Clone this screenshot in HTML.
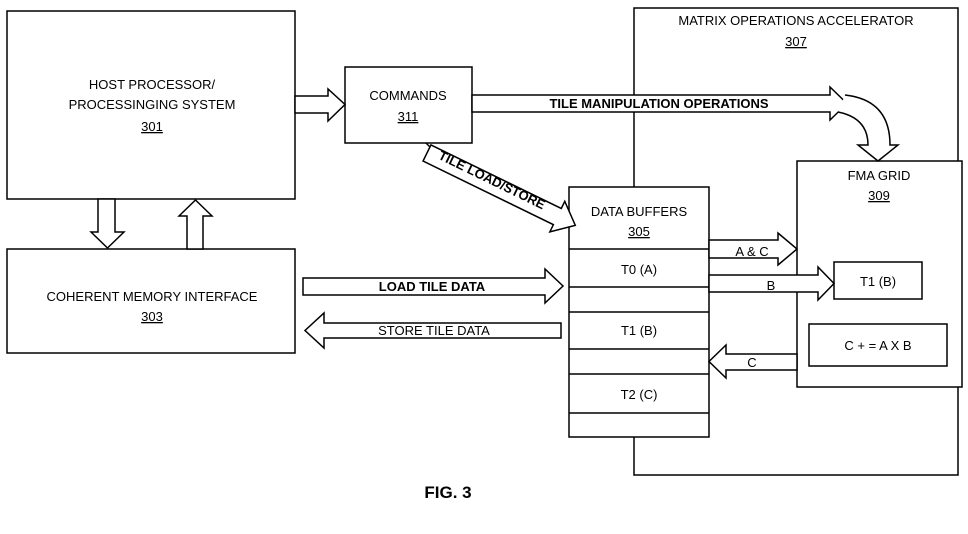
<!DOCTYPE html>
<html><head><style>html,body{margin:0;padding:0;background:#fff}svg{display:block}</style></head><body>
<svg width="968" height="534" viewBox="0 0 968 534" xmlns="http://www.w3.org/2000/svg" font-family="'Liberation Sans',sans-serif" fill="#fff" stroke="#000" stroke-width="1.5">
<rect x="634" y="8" width="324" height="467"/>
<rect x="7" y="11" width="288" height="188"/>
<rect x="7" y="249" width="288" height="104"/>
<rect x="345" y="67" width="127" height="76"/>
<rect x="797" y="161" width="165" height="226"/>
<rect x="834" y="262" width="88" height="37"/>
<rect x="809" y="324" width="138" height="42"/>
<rect x="569" y="187" width="140" height="250"/>
<g fill="none"><path d="M569 249H709M569 287H709M569 312H709M569 349H709M569 374H709M569 413H709"/></g>
<!-- arrows -->
<polygon points="98,199 115,199 115,232 124,232 107.5,248 91,232 98,232"/>
<polygon points="187,249 203,249 203,216 212,216 195.5,200 179,216 187,216"/>
<polygon points="295,96 328,96 328,89 345,104.5 328,121 328,113 295,113"/>
<polygon points="472,95 830,95 830,87 847,103.5 830,120 830,112 472,112"/>
<path d="M845 95 Q890 100 890 145 L898 145 L878 161 L858 145 L868 145 Q868 118 838 112" />
<polygon points="426,143 432,149"/>
<g transform="translate(427,153) rotate(26)"><polygon points="0,-9 145,-9 145,-17 165,0 145,17 145,9 0,9"/></g>
<polygon points="709,240 778,240 778,233 797,249 778,265 778,258 709,258"/>
<polygon points="709,275 818,275 818,267 834,283.5 818,300 818,292 709,292"/>
<polygon points="797,354 726,354 726,345 709,361.5 726,378 726,370 797,370"/>
<polygon points="303,278 545,278 545,269 563,286 545,303 545,295 303,295"/>
<polygon points="561,323 324,323 324,313 305,330.5 324,348 324,338 561,338"/>
<g fill="#000" stroke="none" font-size="13" text-anchor="middle">
<text x="152" y="89">HOST PROCESSOR/</text>
<text x="152" y="109">PROCESSINGING SYSTEM</text>
<text x="152" y="131" text-decoration="underline">301</text>
<text x="152" y="301">COHERENT MEMORY INTERFACE</text>
<text x="152" y="321" text-decoration="underline">303</text>
<text x="408" y="100">COMMANDS</text>
<text x="408" y="121" text-decoration="underline">311</text>
<text x="796" y="25">MATRIX OPERATIONS ACCELERATOR</text>
<text x="796" y="46" text-decoration="underline">307</text>
<text x="879" y="180">FMA GRID</text>
<text x="879" y="200" text-decoration="underline">309</text>
<text x="639" y="216">DATA BUFFERS</text>
<text x="639" y="236" text-decoration="underline">305</text>
<text x="639" y="274">T0 (A)</text>
<text x="639" y="335">T1 (B)</text>
<text x="639" y="399">T2 (C)</text>
<text x="878" y="286">T1 (B)</text>
<text x="878" y="350">C + = A X B</text>
<text x="752" y="256">A &amp; C</text>
<text x="771" y="290">B</text>
<text x="752" y="367">C</text>
<text x="434" y="335">STORE TILE DATA</text>
<text x="432" y="291" font-weight="bold">LOAD TILE DATA</text>
<text x="659" y="108" font-weight="bold">TILE MANIPULATION OPERATIONS</text>
<text transform="translate(490,184) rotate(26)" font-weight="bold">TILE LOAD/STORE</text>
<text x="448" y="498" font-size="17" font-weight="bold">FIG. 3</text>
</g>
</svg>
</body></html>
